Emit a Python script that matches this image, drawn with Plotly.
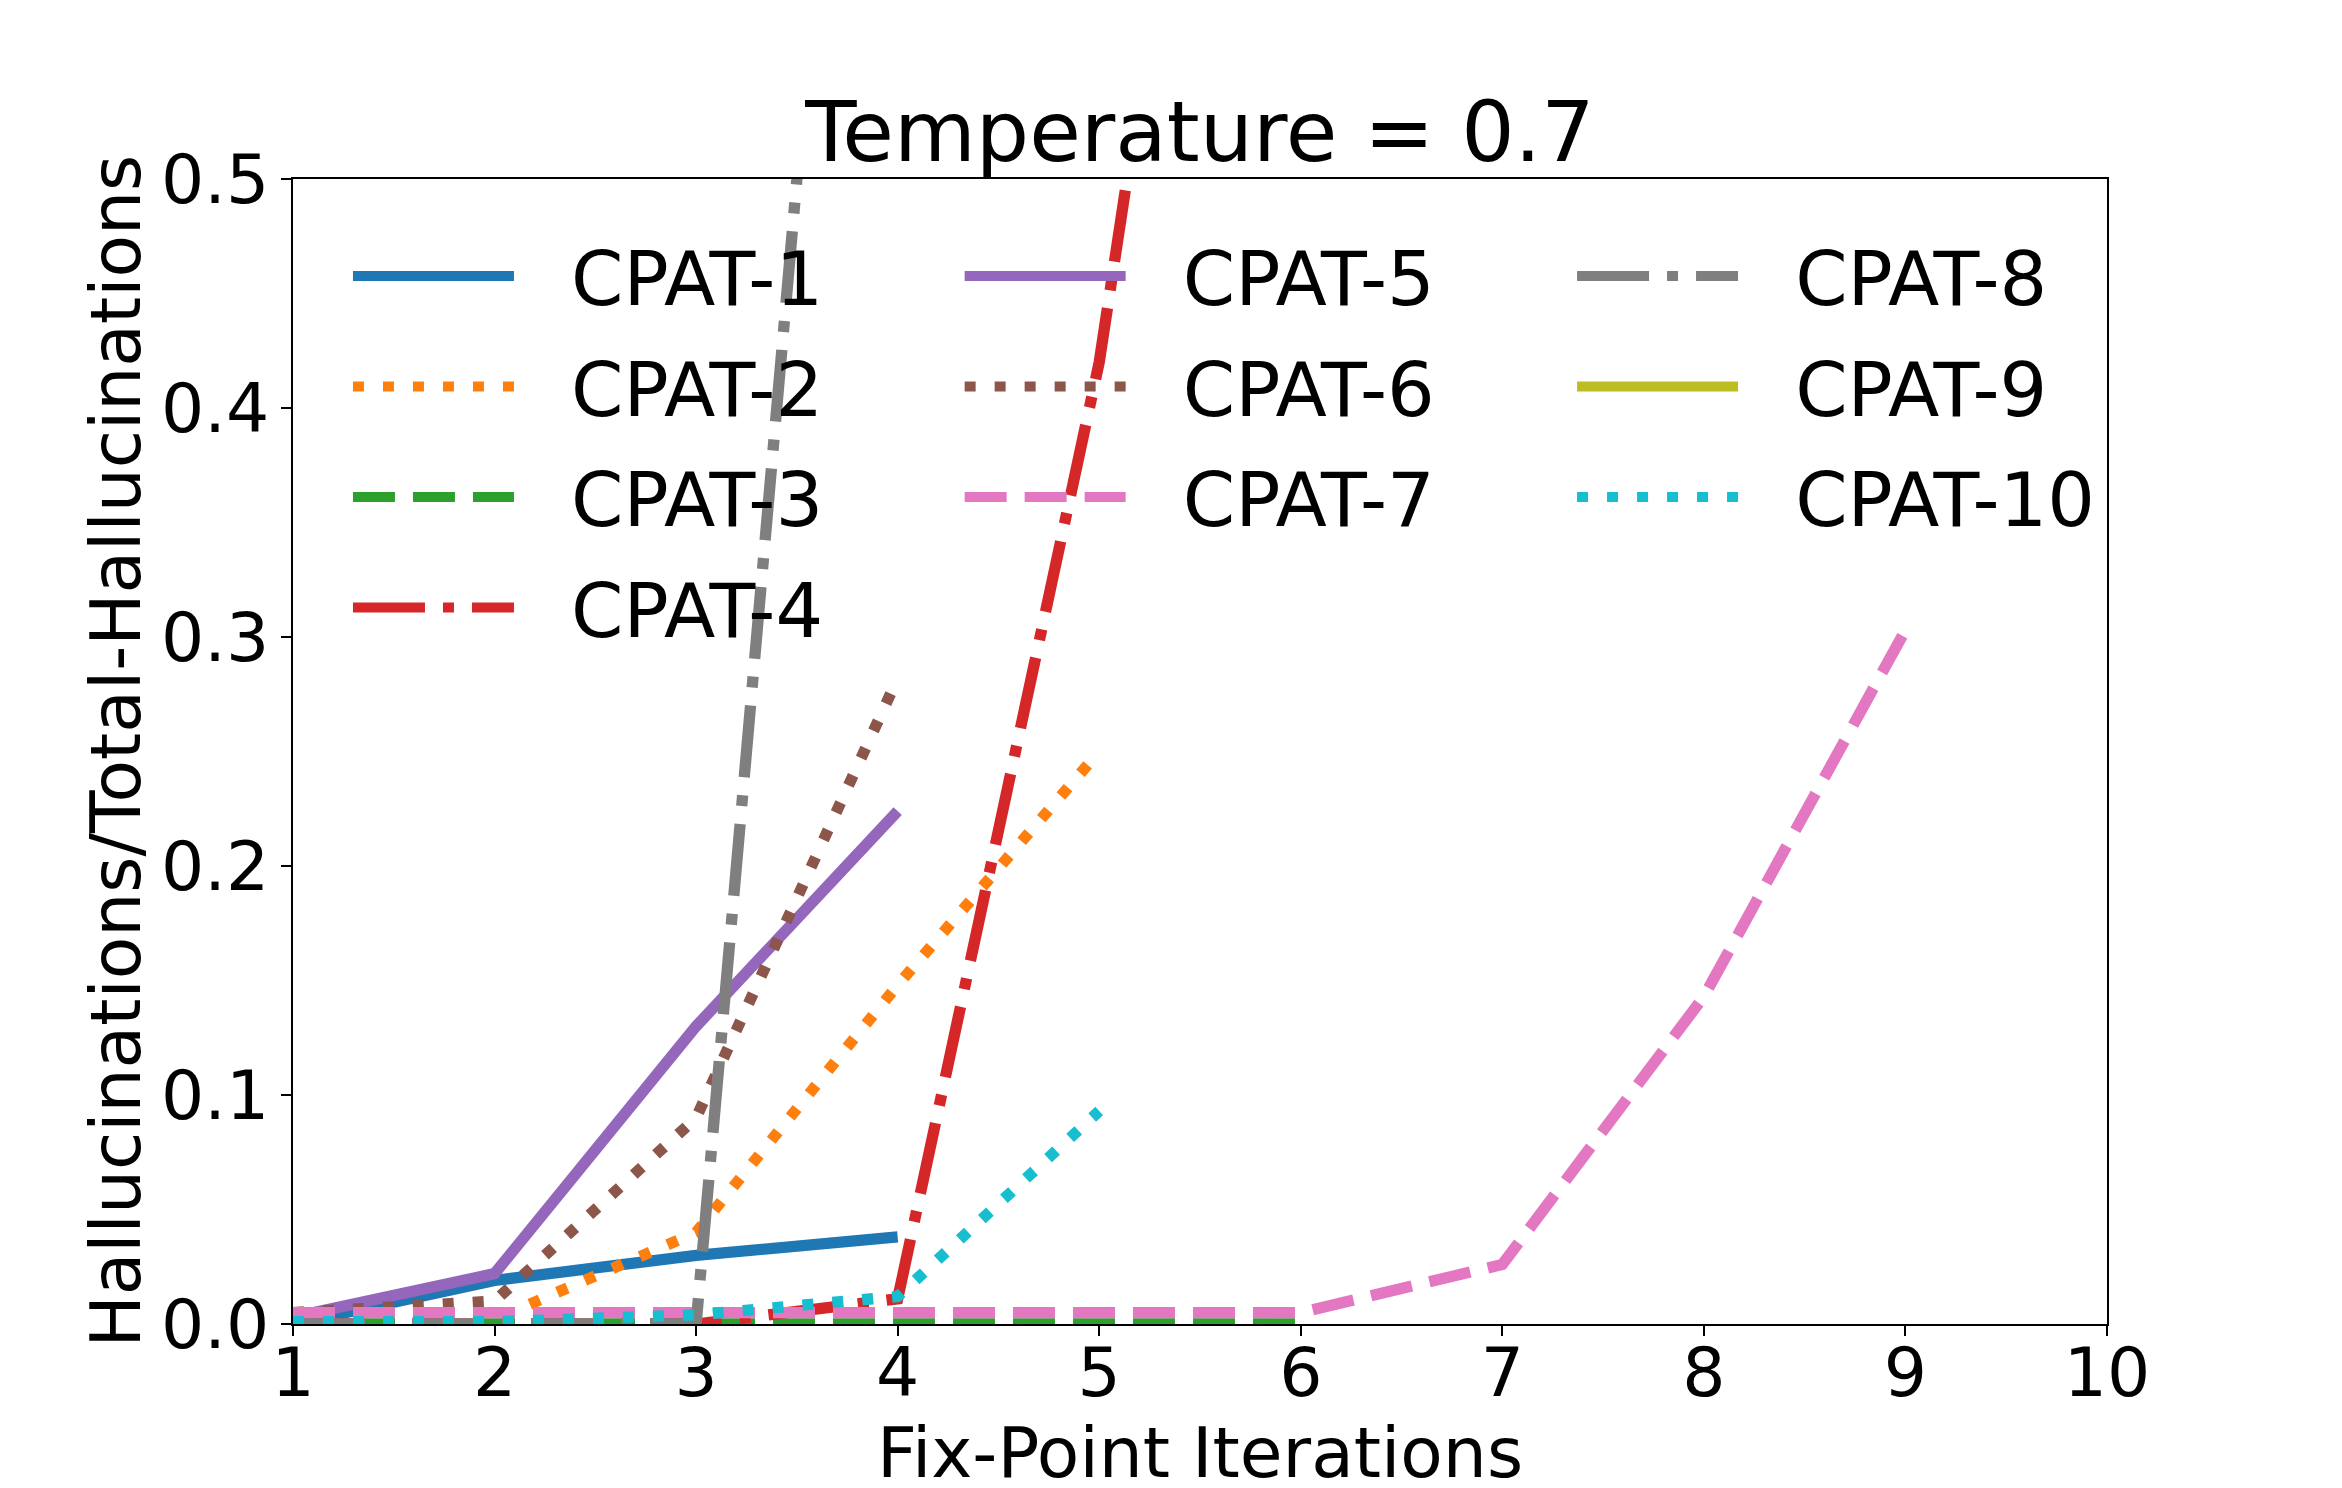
import plotly.graph_objects as go

# ---- data ----
iterations = [1, 2, 3, 4, 5, 6, 7, 8, 9, 10]
series_names = ["CPAT-1", "CPAT-2", "CPAT-3", "CPAT-4", "CPAT-5",
                "CPAT-6", "CPAT-7", "CPAT-8", "CPAT-9", "CPAT-10"]

cpat1 = [0.0, 0.019, 0.030, 0.038]
cpat2 = [0.0, 0.002, 0.040, 0.148, 0.250]
cpat3 = [0.0, 0.0, 0.0, 0.0, 0.0, 0.0]
cpat4 = [0.0, 0.0, 0.0, 0.011, 0.42, 1.0]
cpat5 = [0.003, 0.022, 0.130, 0.224]
cpat6 = [0.005, 0.010, 0.090, 0.282]
cpat7 = [0.005, 0.005, 0.005, 0.005, 0.005, 0.005, 0.026, 0.143, 0.303]
cpat8 = [0.0, 0.0, 0.0, 1.0]
cpat9 = [0.0]
cpat10 = [0.001, 0.001, 0.004, 0.012, 0.093]

y_ticks = [0.0, 0.1, 0.2, 0.3, 0.4, 0.5]
title_text = "Temperature = 0.7"
x_label = "Fix-Point Iterations"
y_label = "Hallucinations/Total-Hallucinations"

# ---- styles ----
colors = ["#1f77b4", "#ff7f0e", "#2ca02c", "#d62728", "#9467bd",
          "#8c564b", "#e377c2", "#7f7f7f", "#bcbd22", "#17becf"]
LW = 11.3
DOT = "11px,19px"
DASH = "42px,18px"
DASHDOT = "72px,18px,11px,18px"
dashes = ["solid", DOT, DASH, DASHDOT, "solid", DOT, DASH, DASHDOT, "solid", DOT]
legend_ids = ["legend"] * 4 + ["legend2"] * 3 + ["legend3"] * 3

all_series = [cpat1, cpat2, cpat3, cpat4, cpat5, cpat6, cpat7, cpat8, cpat9, cpat10]

FONT = "DejaVu Sans"
TICK = 68
LAB = 69.5
LEG = 75

# page body has an 8px margin: the figure is shrunk so the page is exactly 2342x1488
W, H = 2326, 1472

fig = go.Figure()
for name, vals, col, dsh, lg in zip(series_names, all_series, colors, dashes, legend_ids):
    fig.add_trace(go.Scatter(
        x=iterations[:len(vals)], y=vals, mode="lines",
        name='<span style="font-size:82px">\u00a0\u00a0</span>' + name,
        line=dict(color=col, width=LW, dash=dsh),
        legend=lg, legendgroup=name, showlegend=True,
    ))

legend_common = dict(
    orientation="v", bgcolor="rgba(0,0,0,0)", borderwidth=0,
    itemwidth=161, font=dict(family=FONT, size=LEG, color="black"),
    xanchor="left", yanchor="top", traceorder="grouped", tracegroupgap=10,
)

fig.update_layout(
    width=W, height=H,
    margin=dict(l=285, r=227, t=171, b=156, pad=0),
    paper_bgcolor="white", plot_bgcolor="white",
    font=dict(family=FONT, size=TICK, color="black"),
    title=dict(text=title_text, font=dict(family=FONT, size=84, color="black"),
               x=0.5, xref="paper", xanchor="center",
               y=1 - 153 / H, yref="container", yanchor="bottom"),
    legend=dict(x=0.0303, y=0.9635, **legend_common),
    legend2=dict(x=0.3675, y=0.9635, **legend_common),
    legend3=dict(x=0.7051, y=0.9635, **legend_common),
    annotations=[
        dict(text=y_label, textangle=-90, showarrow=False,
             xref="paper", yref="paper", x=-0.0981, y=0.5,
             xanchor="center", yanchor="middle",
             font=dict(family=FONT, size=LAB, color="black")),
        dict(text=x_label, showarrow=False,
             xref="paper", yref="paper", x=0.5, y=-0.1119,
             xanchor="center", yanchor="middle",
             font=dict(family=FONT, size=LAB, color="black")),
    ],
)

fig.update_xaxes(
    range=[1, 10], tickmode="array", tickvals=iterations,
    ticktext=[str(v) for v in iterations],
    ticks="outside", ticklen=10, tickwidth=2.3, tickcolor="black",
    showline=True, linecolor="black", linewidth=2.3, mirror=True,
    showgrid=False, zeroline=False,
    tickfont=dict(family=FONT, size=TICK, color="black"),
    ticklabelstandoff=-22,
    automargin=False,
)
fig.update_yaxes(
    range=[0, 0.5], tickmode="array", tickvals=y_ticks,
    ticktext=["%.1f" % v for v in y_ticks],
    ticks="outside", ticklen=10, tickwidth=2.3, tickcolor="black",
    showline=True, linecolor="black", linewidth=2.3, mirror=True,
    showgrid=False, zeroline=False,
    tickfont=dict(family=FONT, size=TICK, color="black"),
    ticklabelstandoff=-2,
    automargin=False,
)

fig.write_html("out.html")
